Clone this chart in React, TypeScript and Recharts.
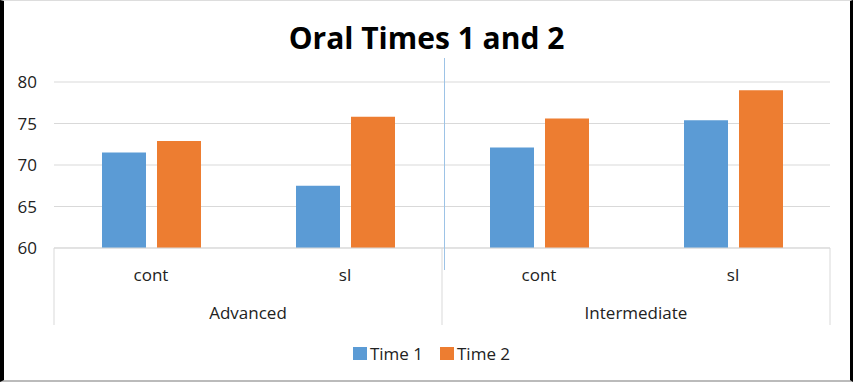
import { BarChart, Bar, XAxis, YAxis, CartesianGrid, Legend } from 'recharts';

const groups = ['Advanced', 'Advanced', 'Intermediate', 'Intermediate'];
const conditions = ['cont', 'sl', 'cont', 'sl'];
const time1 = [71.5, 67.5, 72.1, 75.4];
const time2 = [72.9, 75.8, 75.6, 79.0];
const yTicks = [60, 65, 70, 75, 80];

const data = conditions.map((c, i) => ({
  key: `${groups[i]}-${c}`,
  cond: c,
  group: groups[i],
  time1: time1[i],
  time2: time2[i],
}));

const W = 853;
const H = 382;
const margin = { top: 82, right: 23, bottom: 14, left: 0 };
const yAxisWidth = 54;
const bandWidth = (W - margin.left - margin.right - yAxisWidth) / data.length;
const FONT = '"Open Sans", sans-serif';
const BLUE = '#5b9bd5';
const ORANGE = '#ed7d31';
const GRID = '#d9d9d9';

// two-level category labels: condition under each band, group name centred under each pair
function GroupedTick(props: any) {
  const { x, y, index } = props;
  const first = index === 0 || groups[index] !== groups[index - 1];
  const last = index === data.length - 1;
  return (
    <g>
      <text x={x} y={y + 33} textAnchor="middle" fontSize={17} fill="#222" fontFamily={FONT}>
        {conditions[index]}
      </text>
      {first && (
        <>
          <line x1={x - bandWidth / 2} x2={x - bandWidth / 2} y1={y} y2={y + 77} stroke={GRID} />
          <text x={x + bandWidth / 2} y={y + 71} textAnchor="middle" fontSize={17} fill="#222" fontFamily={FONT}>
            {groups[index]}
          </text>
        </>
      )}
      {last && <line x1={x + bandWidth / 2} x2={x + bandWidth / 2} y1={y} y2={y + 77} stroke={GRID} />}
    </g>
  );
}

function LegendBox() {
  const items = [
    { label: 'Time 1', color: BLUE },
    { label: 'Time 2', color: ORANGE },
  ];
  return (
    <div style={{ height: 30, paddingLeft: 33, display: 'flex', justifyContent: 'center', alignItems: 'center', gap: 17, fontFamily: FONT, fontSize: 17, color: '#222' }}>
      {items.map((it) => (
        <div key={it.label} style={{ display: 'flex', alignItems: 'center', gap: 3 }}>
          <span style={{ width: 14, height: 13, background: it.color, display: 'inline-block' }} />
          <span>{it.label}</span>
        </div>
      ))}
    </div>
  );
}

export default function App() {
  return (
    <div style={{ position: 'fixed', left: 0, top: 0, width: W, height: H, background: '#fff' }}>
      <div style={{ position: 'absolute', left: 0, right: 0, top: 17, textAlign: 'center', fontFamily: FONT, fontWeight: 700, fontSize: 30, color: '#000' }}>
        Oral Times 1 and 2
      </div>
      <div style={{ position: 'absolute', left: 0, top: 0 }}>
        <BarChart width={W} height={H} data={data} margin={margin} barSize={44} barGap={11}>
          <CartesianGrid vertical={false} stroke={GRID} />
          <YAxis
            domain={[60, 80]}
            ticks={yTicks}
            width={yAxisWidth}
            axisLine={false}
            tickLine={false}
            tickSize={0}
            tickMargin={17}
            tick={{ fontSize: 17, fill: '#222', fontFamily: FONT }}
          />
          <XAxis
            dataKey="key"
            height={90}
            interval={0}
            axisLine={{ stroke: GRID }}
            tickLine={false}
            tickSize={0}
            tickMargin={0}
            tick={<GroupedTick />}
          />
          <Legend verticalAlign="bottom" content={<LegendBox />} />
          <Bar dataKey="time1" name="Time 1" fill={BLUE} isAnimationActive={false} />
          <Bar dataKey="time2" name="Time 2" fill={ORANGE} isAnimationActive={false} />
        </BarChart>
      </div>
      {/* thin blue marker line across the middle */}
      <div style={{ position: 'absolute', left: 444, top: 58, width: 1, height: 212, background: '#9dc3e6' }} />
      {/* frame */}
      <div
        style={{
          position: 'absolute',
          inset: 0,
          boxSizing: 'border-box',
          borderLeft: '4px solid #000',
          borderRight: '3px solid #000',
          borderTop: '1px solid #ddd',
          borderBottom: '2px solid #bbb',
          pointerEvents: 'none',
        }}
      />
    </div>
  );
}
